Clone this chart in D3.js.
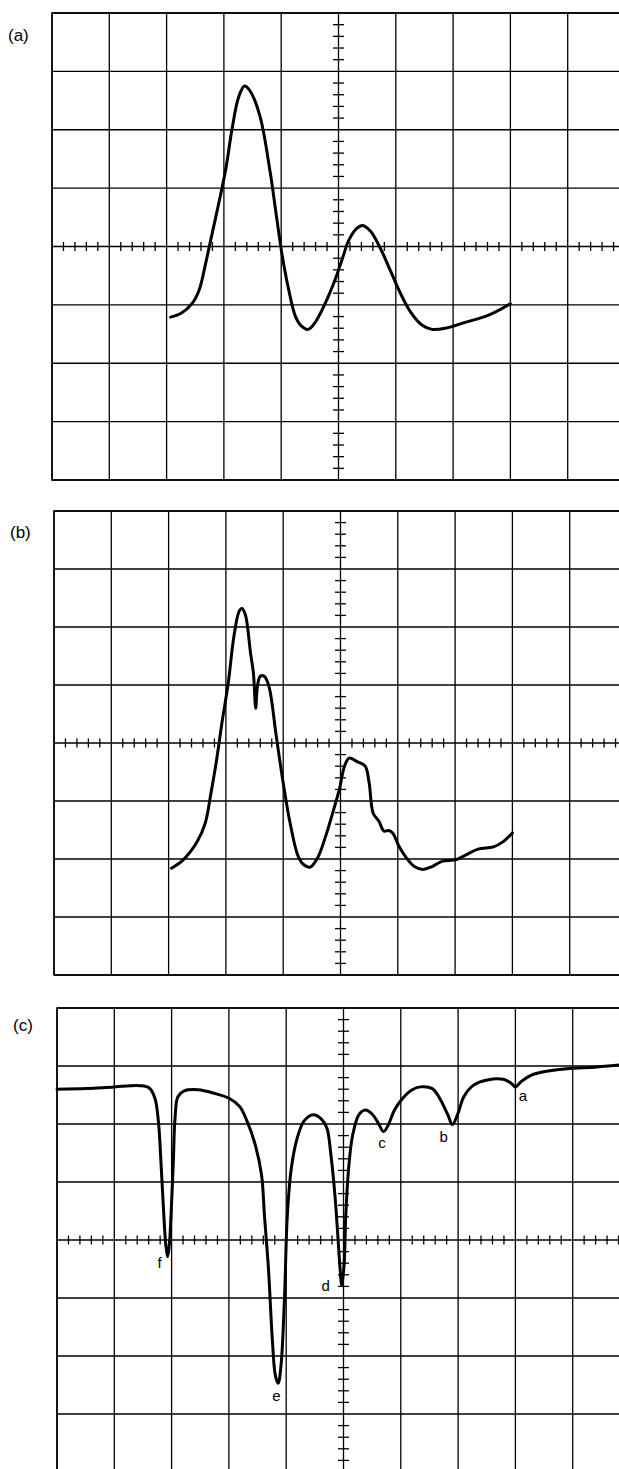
<!DOCTYPE html>
<html>
<head>
<meta charset="utf-8">
<script src="https://cdn.jsdelivr.net/npm/d3@7"></script>
<style>
  body { margin: 0; background: #fff; }
  svg { display: block; }
  .grid line { stroke: #000; stroke-width: 1.3; }
  .frame { fill: none; stroke: #000; stroke-width: 1.5; }
  .ticks line { stroke: #000; stroke-width: 1.3; }
  .trace { fill: none; stroke: #000; stroke-width: 3; stroke-linejoin: round; stroke-linecap: round; }
  .panel-label { font-family: "Liberation Sans", "DejaVu Sans", sans-serif; font-size: 17px; }
  .peak-label { font-family: "Liberation Sans", "DejaVu Sans", sans-serif; font-size: 15px; }
</style>
</head>
<body>
<div id="chart"></div>
<script>
// Screen divisions (10 across, 8 high), trace values in divisions from screen centre
var divX = d3.range(0, 11);
var divY = d3.range(-4, 5);

// trace (a)
var aX = [2.07, 2.26, 2.45, 2.57, 2.67, 2.77, 2.91, 3.03, 3.15, 3.26, 3.36, 3.46, 3.63, 3.81, 3.91, 4.01,
          4.12, 4.25, 4.36, 4.47, 4.60, 4.77, 4.94, 5.08, 5.18, 5.32, 5.42, 5.56, 5.73, 5.90, 6.08, 6.25,
          6.45, 6.63, 6.87, 7.21, 7.63, 8.00];
var aY = [-1.21, -1.14, -0.97, -0.74, -0.34, 0.11, 0.74, 1.31, 2.06, 2.57, 2.75, 2.66, 2.23, 1.26, 0.57, -0.11,
          -0.69, -1.20, -1.37, -1.42, -1.29, -0.97, -0.57, -0.17, 0.11, 0.31, 0.36, 0.26, -0.03, -0.40, -0.80, -1.11,
          -1.34, -1.42, -1.40, -1.30, -1.17, -0.98];

// trace (b)
var bX = [2.05, 2.26, 2.50, 2.64, 2.74, 2.83, 2.93, 3.04, 3.14, 3.23, 3.28, 3.34, 3.43, 3.48, 3.52, 3.55,
          3.60, 3.67, 3.75, 3.88, 4.00, 4.12, 4.26, 4.36, 4.47, 4.60, 4.74, 4.88, 4.98, 5.07, 5.15, 5.29,
          5.43, 5.50, 5.57, 5.67, 5.76, 5.84, 5.91, 6.02, 6.15, 6.29, 6.44, 6.60, 6.77, 7.02, 7.19, 7.40,
          7.67, 7.84, 8.00];
var bY = [-2.16, -2.01, -1.70, -1.38, -0.86, -0.34, 0.34, 1.03, 1.84, 2.27, 2.32, 2.21, 1.55, 1.21, 0.60, 0.98,
          1.15, 1.15, 0.98, 0.11, -0.69, -1.38, -1.95, -2.10, -2.14, -1.98, -1.61, -1.15, -0.80, -0.40, -0.26, -0.32,
          -0.40, -0.69, -1.21, -1.35, -1.52, -1.51, -1.55, -1.78, -1.98, -2.13, -2.18, -2.13, -2.04, -2.01, -1.93, -1.83,
          -1.79, -1.70, -1.55];

// trace (c)
var cX = [0.00, 0.52, 1.00, 1.45, 1.61, 1.71, 1.77, 1.82, 1.87, 1.90, 1.93, 1.96, 1.99, 2.03, 2.06, 2.11,
          2.22, 2.46, 2.74, 3.01, 3.19, 3.32, 3.46, 3.57, 3.62, 3.69, 3.76, 3.81, 3.86, 3.91, 3.97, 4.02,
          4.09, 4.19, 4.31, 4.47, 4.61, 4.71, 4.78, 4.85, 4.90, 4.94, 4.97, 5.01, 5.04, 5.09, 5.16, 5.27,
          5.38, 5.51, 5.61, 5.70, 5.78, 5.89, 6.03, 6.20, 6.34, 6.55, 6.68, 6.82, 6.90, 6.99, 7.10, 7.27,
          7.51, 7.79, 7.93, 8.00, 8.10, 8.27, 8.55, 9.00, 9.38, 9.85];
var cY = [2.60, 2.61, 2.64, 2.66, 2.62, 2.44, 2.04, 1.24, 0.32, -0.09, -0.29, -0.09, 0.43, 1.35, 2.10, 2.47,
          2.57, 2.59, 2.53, 2.44, 2.30, 2.04, 1.64, 1.12, 0.43, -0.49, -1.75, -2.33, -2.47, -2.16, -1.00, 0.43,
          1.24, 1.75, 2.05, 2.16, 2.09, 1.93, 1.47, 0.78, 0.09, -0.49, -0.78, -0.43, 0.43, 1.24, 1.81, 2.16,
          2.24, 2.16, 2.01, 1.87, 1.98, 2.24, 2.44, 2.59, 2.64, 2.61, 2.44, 2.16, 1.99, 2.16, 2.47, 2.67,
          2.76, 2.77, 2.70, 2.64, 2.73, 2.84, 2.91, 2.96, 2.98, 3.02];

// absorption dips marked on trace (c)
var peakNames = ["a", "b", "c", "d", "e", "f"];
var peakX = [8.13, 6.75, 5.67, 4.69, 3.83, 1.79];
var peakY = [2.40, 1.69, 1.59, -0.88, -2.78, -0.49];

var panels = [
    {label: "(a)", left: 52, top: 13, width: 573, height: 467, lx: 8, ly: 41, xs: aX, ys: aY},
    {label: "(b)", left: 54, top: 511, width: 573, height: 464, lx: 10, ly: 538, xs: bX, ys: bY},
    {label: "(c)", left: 57, top: 1008, width: 573, height: 464, lx: 13, ly: 1031, xs: cX, ys: cY,
     peaks: true}
];

var svg = d3.select("#chart").append("svg")
    .attr("width", 619)
    .attr("height", 1469);

svg.append("rect").attr("width", 619).attr("height", 1469).attr("fill", "#fff");

function scope(p){

    var x = d3.scaleLinear().domain([0, 10]).range([p.left, p.left + p.width]);
    var y = d3.scaleLinear().domain([-4, 4]).range([p.top + p.height, p.top]);

    var g = svg.append("g");

    // graticule
    var grid = g.append("g").attr("class", "grid");
    grid.selectAll("line.v").data(divX).enter().append("line")
        .attr("class", "v")
        .attr("x1", d => x(d)).attr("x2", d => x(d))
        .attr("y1", y(4)).attr("y2", y(-4));
    grid.selectAll("line.h").data(divY).enter().append("line")
        .attr("class", "h")
        .attr("x1", x(0)).attr("x2", x(10))
        .attr("y1", d => y(d)).attr("y2", d => y(d));

    g.append("rect").attr("class", "frame")
        .attr("x", x(0)).attr("y", y(4))
        .attr("width", x(10) - x(0)).attr("height", y(-4) - y(4));

    // minor ticks on the centre lines, 5 per division
    var minorX = d3.range(0, 50).filter(i => i % 5 != 0).map(i => i / 5);
    var minorY = d3.range(-20, 20).filter(i => i % 5 != 0).map(i => i / 5);

    var ticks = g.append("g").attr("class", "ticks");
    ticks.selectAll("line.tx").data(minorX).enter().append("line")
        .attr("class", "tx")
        .attr("x1", d => x(d)).attr("x2", d => x(d))
        .attr("y1", y(0) - 4.5).attr("y2", y(0) + 4.5);
    ticks.selectAll("line.ty").data(minorY).enter().append("line")
        .attr("class", "ty")
        .attr("x1", x(5) - 5.5).attr("x2", x(5) + 5.5)
        .attr("y1", d => y(d)).attr("y2", d => y(d));

    // trace
    var pts = p.xs.map((d, i) => [d, p.ys[i]]);
    var line = d3.line()
        .x(d => x(d[0]))
        .y(d => y(d[1]))
        .curve(d3.curveCatmullRom.alpha(0.5));
    g.append("path").attr("class", "trace").attr("d", line(pts));

    g.append("text").attr("class", "panel-label")
        .attr("x", p.lx).attr("y", p.ly)
        .text(p.label);

    if(p.peaks){
        g.selectAll("text.peak-label").data(peakNames).enter().append("text")
            .attr("class", "peak-label")
            .attr("text-anchor", "middle")
            .attr("x", (d, i) => x(peakX[i]))
            .attr("y", (d, i) => y(peakY[i]))
            .text(d => d);
    }
}

panels.forEach(scope);
</script>
</body>
</html>
